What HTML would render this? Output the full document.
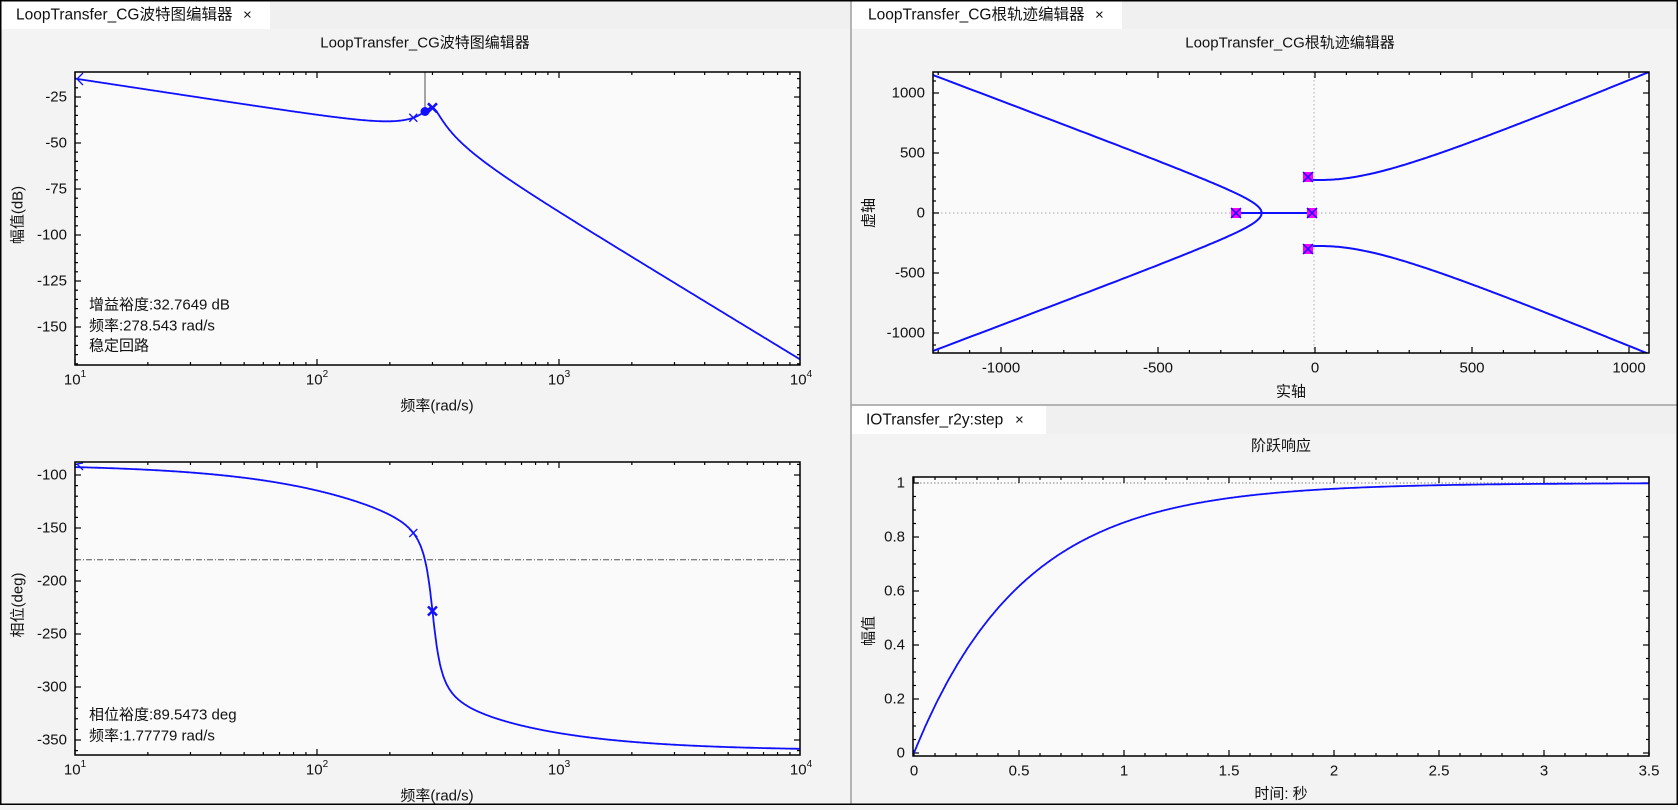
<!DOCTYPE html>
<html><head><meta charset="utf-8">
<style>
html,body{margin:0;padding:0;}
body{width:1678px;height:805px;overflow:hidden;background:#f3f3f3;font-family:"Liberation Sans","Noto Sans CJK SC",sans-serif;}
svg text{font-family:"Liberation Sans","Noto Sans CJK SC",sans-serif;}
</style></head><body>
<svg id="s" width="1678" height="805" xmlns="http://www.w3.org/2000/svg"></svg>
<script>
var o=[];
function R(x,y,w,h,f,st){o.push('<rect x="'+x+'" y="'+y+'" width="'+w+'" height="'+h+'" fill="'+f+'"'+(st?' stroke="'+st+'" stroke-width="1.5"':'')+'/>');}
function L(x1,y1,x2,y2,c,w,d){o.push('<line x1="'+x1+'" y1="'+y1+'" x2="'+x2+'" y2="'+y2+'" stroke="'+c+'" stroke-width="'+(w||1)+'"'+(d?' stroke-dasharray="'+d+'"':'')+'/>');}
function T(x,y,s,anc,sz,extra){o.push('<text x="'+x+'" y="'+y+'" font-size="'+(sz||15)+'" fill="#111" text-anchor="'+(anc||'start')+'" dominant-baseline="central"'+(extra||'')+'>'+s+'</text>');}
function P(pts,c,w,clip){var d='M'+pts.map(function(p){return p[0].toFixed(1)+','+p[1].toFixed(1)}).join('L');o.push('<path d="'+d+'" fill="none" stroke="'+c+'" stroke-width="'+(w||2)+'"'+(clip?' clip-path="url(#'+clip+')"':'')+'/>');}
function X(x,y,s,w){L(x-s,y-s,x+s,y+s,'#1010ff',w);L(x-s,y+s,x+s,y-s,'#1010ff',w);}
R(0,0,1678,805,'#f3f3f3');
R(0,0,1678,29,'#f0f0f0');
R(0,0,270,29,'#ffffff');
R(852,0,270,29,'#ffffff');
R(852,405,826,29,'#f0f0f0');
R(852,406,194,28,'#ffffff');
L(851,0,851,805,'#a0a0a0',1.5);
L(851,405,1678,405,'#a0a0a0',1.5);
T(16,15,'LoopTransfer_CG波特图编辑器','start',15.5);T(243,15,'×','start',15);
T(868,15,'LoopTransfer_CG根轨迹编辑器','start',15.5);T(1095,15,'×','start',15);
T(866,420,'IOTransfer_r2y:step','start',15.5);T(1015,420,'×','start',15);
T(425,43,'LoopTransfer_CG波特图编辑器','middle',15);
T(1290,43,'LoopTransfer_CG根轨迹编辑器','middle',15);
T(1281,446,'阶跃响应','middle',15);
var defs='<defs>';
function plot(id,x,y,w,h){R(x,y,w,h,'#fafafa');defs+='<clipPath id="'+id+'"><rect x="'+x+'" y="'+y+'" width="'+w+'" height="'+h+'"/></clipPath>';}
function frame(x,y,w,h){o.push('<rect x="'+x+'" y="'+y+'" width="'+w+'" height="'+h+'" fill="none" stroke="#000" stroke-width="1.5"/>');}
function xt(px,y0,y1,len){L(px,y1,px,y1-len,'#000',1.2);L(px,y0,px,y0+len,'#000',1.2);}
function yt(py,x0,x1,len){L(x0,py,x0+len,py,'#000',1.2);L(x1,py,x1-len,py,'#000',1.2);}
var K=4.02e7;
function mag(w){var a=Math.hypot(w,250),c=Math.hypot(90400-w*w,40*w);return 20*Math.log10(K/(w*a*c));}
function ph(w){return -90-Math.atan(w/250)*180/Math.PI-Math.atan2(40*w,90400-w*w)*180/Math.PI;}
function bx(w){return 75+242*(Math.log10(w)-1);}
function my(d){return 97+(-25-d)*1.84;}
function pyy(d){return 687+(-300-d)*1.06;}
plot('c1',75,72,725,293);plot('c2',75,462,725,293);
[[72,365],[462,755]].forEach(function(r,i){
 for(var e=1;e<4;e++)for(var k=1;k<10;k++){var w=k*Math.pow(10,e);var px=bx(w);xt(px,r[0],r[1],k==1?6:3);}
 var ly=r[1]+15;
 for(var e=1;e<=4;e++){var px=bx(Math.pow(10,e));o.push('<text x="'+(px)+'" y="'+ly+'" font-size="15" fill="#111" text-anchor="middle" dominant-baseline="central">10<tspan font-size="10" dy="-6">'+e+'</tspan></text>');}
 T(437,r[1]+41,'频率(rad/s)','middle',15);
});
for(var d=-10;d>=-170;d-=5){var py=my(d);if(py<72||py>365)continue;yt(py,75,800,d%25==0?6:3);if(d%25==0)T(67,py,d,'end',15);}
for(var d=-90;d>=-360;d-=10){var py=pyy(d);if(py<462||py>755)continue;yt(py,75,800,d%50==0?6:3);if(d%50==0)T(67,py,d,'end',15);}
o.push('<text x="18" y="215" font-size="15" fill="#111" text-anchor="middle" dominant-baseline="central" transform="rotate(-90 18 215)">幅值(dB)</text>');
o.push('<text x="18" y="605" font-size="15" fill="#111" text-anchor="middle" dominant-baseline="central" transform="rotate(-90 18 605)">相位(deg)</text>');
var m=[],p=[];for(var i=0;i<=1500;i++){var w=Math.pow(10,1+3*i/1500);m.push([bx(w),my(mag(w))]);p.push([bx(w),pyy(ph(w))]);}
L(75,pyy(-180),800,pyy(-180),'#555',1,'6,2,1,2');
L(425,72,425,111,'#888',1.5);
P(m,'#1010ff',1.8,'c1');P(p,'#1010ff',1.8,'c2');
X(bx(250),my(mag(250)),4,1.3);X(bx(300),my(mag(300)),4.5,2.5);
o.push('<circle cx="425" cy="'+my(mag(278.5)).toFixed(1)+'" r="4.5" fill="#1010ff"/>');
X(bx(250),pyy(ph(250)),4,1.3);X(bx(300),pyy(ph(300)),4.5,2.5);
P([[83,73],[77,79],[83,85]],'#1010ff',1.3);P([[83,458+5],[77,464],[83,470]],'#1010ff',1.3);
frame(75,72,725,293);frame(75,462,725,293);
T(89,305,'增益裕度:32.7649 dB','start',15);T(89,326,'频率:278.543 rad/s','start',15);T(89,346,'稳定回路','start',15);
T(89,715,'相位裕度:89.5473 deg','start',15);T(89,736,'频率:1.77779 rad/s','start',15);
function rx(v){return 1315+v*0.314;}function ry(v){return 213-v*0.12;}
plot('c3',933,72,716,281);
L(933,213,1649,213,'#bbb',1.2,'1.5,2.5');L(1314,72,1314,353,'#bbb',1.2,'1.5,2.5');
for(var v=-1200;v<=1000;v+=100){var px=rx(v);if(px<933||px>1649)continue;xt(px,72,353,v%500==0?6:3);if(v%500==0)T(px,368,v,'middle',15);}
for(var v=-1100;v<=1100;v+=100){var py=ry(v);yt(py,933,1649,v%500==0?6:3);if(v%500==0)T(925,py,v,'end',15);}
T(1291,392,'实轴','middle',15);
o.push('<text x="869" y="213" font-size="15" fill="#111" text-anchor="middle" dominant-baseline="central" transform="rotate(-90 869 213)">虚轴</text>');
var up=[],dn=[];for(var t=0;t<=3.2;t+=0.02){var x=-40-130*Math.cosh(t),y=127.8*Math.sinh(t);up.push([rx(x),ry(y)]);dn.push([rx(x),ry(-y)]);}
P(up,'#1010ff',2,'c3');P(dn,'#1010ff',2,'c3');
var rp=[[1308,177]];for(var x=1310;x<=1652;x+=2){var dy=Math.sqrt(1089+0.1736*(x-1320)*(x-1320));rp.push([x,213-dy]);}
P(rp,'#1010ff',2,'c3');P(rp.map(function(q){return [q[0],426-q[1]]}),'#1010ff',2,'c3');
L(1236,213,1312,213,'#1010ff',2);
[[1236,213],[1312,213],[1308,177],[1308,249]].forEach(function(q){R(q[0]-5,q[1]-5,10,10,'#ff00ff');X(q[0],q[1],5,1.5);});
frame(933,72,716,281);
function sx(t){return 914+t*210;}function sy(v){return 753-v*270;}
plot('c4',913,477,736,279);
L(913,483,1649,483,'#999',1.2,'1.5,2');
for(var t=0;t<=3.5001;t+=0.1){var tt=Math.round(t*10);xt(sx(t),477,756,tt%5==0?6:3);if(tt%5==0)T(sx(t),771,(tt/10).toString(),'middle',15);}
for(var v=0;v<=1.0001;v+=0.05){var vv=Math.round(v*100);yt(sy(v),913,1649,vv%20==0?6:3);if(vv%20==0)T(905,sy(v),(vv/100).toString(),'end',15);}
T(1281,794,'时间: 秒','middle',15);
o.push('<text x="869" y="631" font-size="15" fill="#111" text-anchor="middle" dominant-baseline="central" transform="rotate(-90 869 631)">幅值</text>');
var st=[];for(var i=0;i<=700;i++){var t=3.5*i/700;st.push([sx(t),sy(1-Math.exp(-t/0.52))]);}
P(st,'#1010ff',1.8,'c4');
frame(913,477,736,279);
o.push('<rect x="0.75" y="0.75" width="1676.5" height="803.5" fill="none" stroke="#000" stroke-width="1.5"/>');
defs+='</defs>';
document.getElementById('s').innerHTML=defs+o.join('');
</script>
</body></html>
